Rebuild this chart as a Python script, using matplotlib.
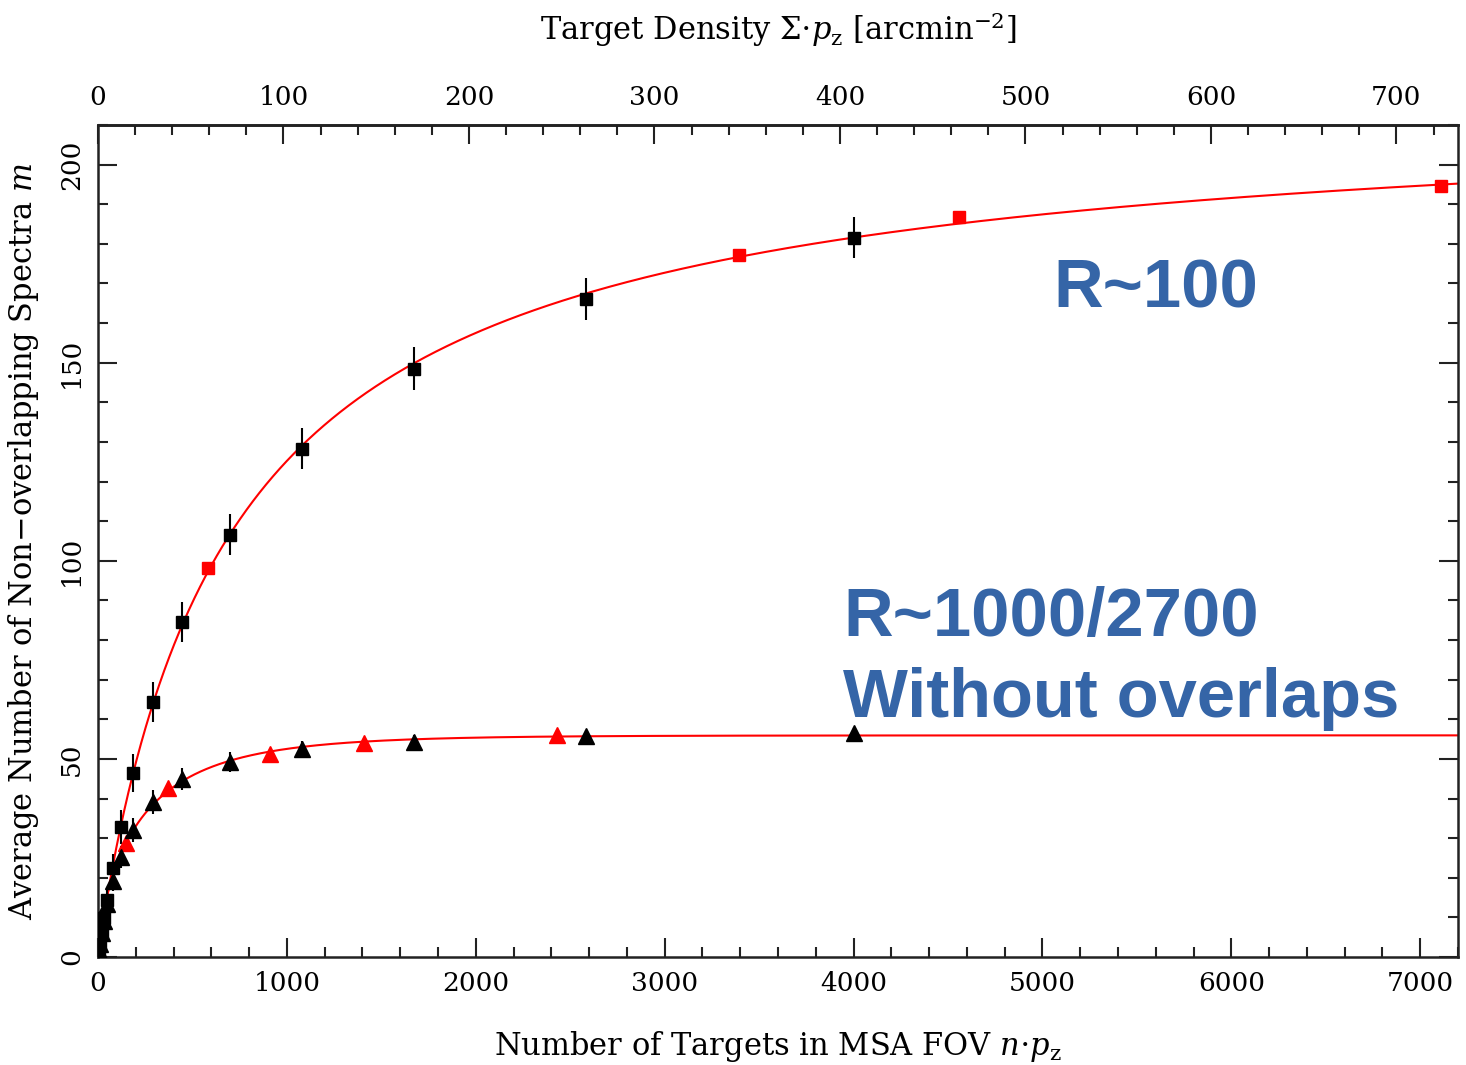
import numpy as np
import matplotlib
matplotlib.use("Agg")
import matplotlib.pyplot as plt
from matplotlib.ticker import MultipleLocator, FixedLocator

# MSA field-of-view area used to convert targets -> density (arcmin^2)
AREA = 9.82

# R~100 (squares)
sq_x_black = [5, 10, 20, 30, 48, 80, 122, 185, 291, 445, 699, 1080, 1673, 2584, 4000]
sq_y_black = [1.7, 3.3, 6.5, 9.8, 14.4, 22.5, 32.8, 46.5, 64.4, 84.6, 106.6, 128.3, 148.5, 166.2, 181.6]
sq_err_black = [1.0, 1.5, 2.0, 2.5, 3.0, 3.5, 4.2, 4.8, 5.0, 5.0, 5.2, 5.2, 5.5, 5.3, 5.2]
sq_x_red = [582, 3394, 4559, 7111]
sq_y_red = [98.2, 177.3, 186.9, 194.7]

# R~1000/2700 (triangles)
tri_x_black = [5, 10, 20, 30, 48, 80, 122, 185, 291, 445, 699, 1080, 1673, 2584, 4000]
tri_y_black = [1.6, 3.2, 6.0, 9.0, 13.5, 19.2, 25.3, 32.0, 39.1, 45.0, 49.2, 52.5, 54.3, 55.8, 56.6]
tri_err_black = [0.8, 1.0, 1.5, 2.0, 2.2, 2.5, 2.8, 3.0, 3.0, 2.8, 2.5, 2.0, 1.8, 1.5, 1.5]
tri_x_red = [150, 371, 908, 1410, 2430]
tri_y_red = [28.8, 42.7, 51.2, 54.0, 56.1]

XMAX, YMAX = 7200, 210
BLUE = "#3565A7"


def hill(x, n0, p):
    x = np.asarray(x, float)
    return x ** p / (x ** p + n0 ** p)


def stretched(x, n0, p):
    x = np.asarray(x, float)
    return 1.0 - np.exp(-(x / n0) ** p)


def fit(x, y, model, xmin=0.0):
    """Grid least-squares fit of m = A*model(x; n0, p) to points with x >= xmin."""
    x = np.asarray(x, float)
    y = np.asarray(y, float)
    keep = x >= xmin
    x, y = x[keep], y[keep]
    ps = np.linspace(0.3, 2.0, 171)[:, None, None]
    n0s = np.geomspace(20, 5000, 400)[None, :, None]
    f = model(x[None, None, :], n0s, ps)
    A = (f * y).sum(-1) / (f * f).sum(-1)
    res = ((A[..., None] * f - y) ** 2).sum(-1)
    i, j = np.unravel_index(np.argmin(res), res.shape)
    A, n0, p = A[i, j], n0s[0, j, 0], ps[i, 0, 0]
    return lambda xx: A * model(xx, n0, p)


plt.rcParams["font.family"] = ["DejaVu Serif"]
plt.rcParams["mathtext.fontset"] = "dejavuserif"

fig = plt.figure(figsize=(14.66, 10.65), dpi=100)
ax = fig.add_axes([98 / 1466, 1 - 957 / 1065, (1458 - 98) / 1466, (957 - 125) / 1065])

xx = np.linspace(0, XMAX, 3000)
sq_fit = fit(sq_x_black + sq_x_red, sq_y_black + sq_y_red, hill)
tri_fit = fit(tri_x_black + tri_x_red, tri_y_black + tri_y_red, stretched, xmin=100)
ax.plot(xx, sq_fit(xx), color="red", lw=1.5, zorder=2)
ax.plot(xx, tri_fit(xx), color="red", lw=1.5, zorder=2)

ax.errorbar(sq_x_black, sq_y_black, yerr=sq_err_black, fmt="s", color="black",
            ms=8, elinewidth=1.5, capsize=0, zorder=4)
ax.plot(sq_x_red, sq_y_red, "s", color="red", ms=8, zorder=4)
ax.errorbar(tri_x_black, tri_y_black, yerr=tri_err_black, fmt="^", color="black",
            ms=11, elinewidth=1.5, capsize=0, zorder=4)
ax.plot(tri_x_red, tri_y_red, "^", color="red", ms=11, zorder=4)

ax.set_xlim(0, XMAX)
ax.set_ylim(0, YMAX)
ax.xaxis.set_major_locator(MultipleLocator(1000))
ax.xaxis.set_minor_locator(MultipleLocator(200))
ax.yaxis.set_major_locator(MultipleLocator(50))
ax.yaxis.set_minor_locator(MultipleLocator(10))
ax.tick_params(which="both", direction="in", top=False, right=True, width=1.5, color="#222222")
ax.tick_params(which="major", length=14)
ax.tick_params(which="minor", length=7)
ax.tick_params(axis="x", labelsize=19, pad=10)
ax.tick_params(axis="y", labelsize=19, pad=10, labelrotation=90)
for lab in ax.get_yticklabels():
    lab.set_va("center")
for s in ax.spines.values():
    s.set_linewidth(1.8)
    s.set_color("#222222")

sec = ax.secondary_xaxis("top", functions=(lambda x: x / AREA, lambda x: x * AREA))
sec.xaxis.set_major_locator(FixedLocator(np.arange(0, 701, 100)))
sec.xaxis.set_minor_locator(FixedLocator(np.arange(0, 731, 20)))
sec.tick_params(which="both", direction="in", width=1.5, color="#222222", labelsize=19, pad=11)
sec.tick_params(which="major", length=14)
sec.tick_params(which="minor", length=7)
sec.spines["top"].set_linewidth(1.8)
sec.set_xlabel(r"Target Density $\Sigma{\cdot}p_{\rm z}$ [arcmin$^{-2}$]", fontsize=22, labelpad=32)

ax.set_xlabel(r"Number of Targets in MSA FOV $n{\cdot}p_{\rm z}$", fontsize=22, labelpad=24)
ax.set_ylabel(r"Average Number of Non$-$overlapping Spectra $m$", fontsize=22, labelpad=13)

tfont = dict(family="Liberation Sans", weight="bold", color=BLUE, fontsize=49.5)
ax.text(5060, 164, "R~100", ha="left", va="baseline", **tfont)
ax.text(3945, 81, "R~1000/2700", ha="left", va="baseline", **tfont)
ax.text(3945, 60.5, "Without overlaps", ha="left", va="baseline", **tfont)

fig.savefig("out.png", dpi=100)
